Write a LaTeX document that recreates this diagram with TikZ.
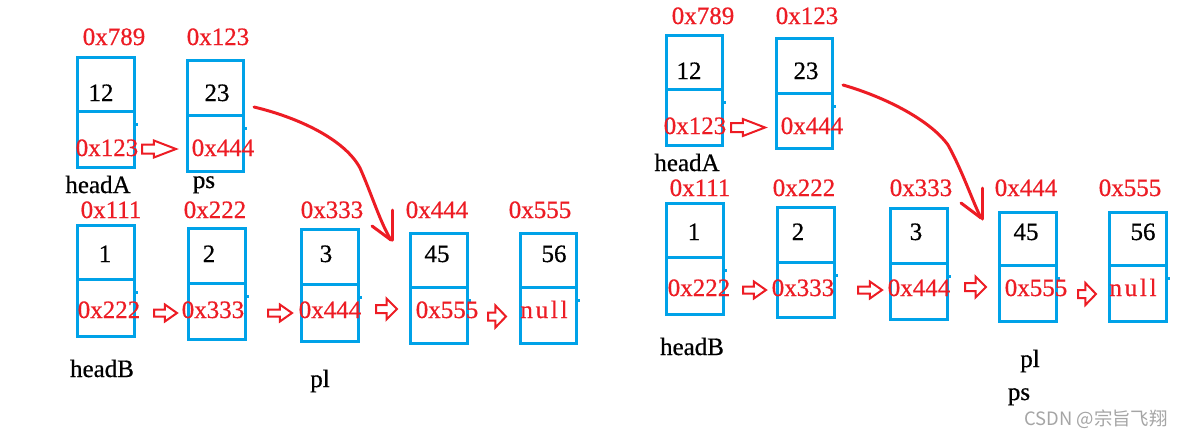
\documentclass[tikz,border=0pt]{standalone}
\usepackage{fontspec}
\setmainfont{Liberation Serif}[FakeBold=0.6]
\newfontfamily\cjk{Noto Sans CJK SC}
\usetikzlibrary{shapes.arrows}
\definecolor{pblue}{RGB}{0,162,232}
\definecolor{pred}{RGB}{237,28,36}
\definecolor{wm}{RGB}{165,165,165}
\tikzset{
  box/.style={draw=pblue, line width=2.25pt, inner sep=0pt, outer sep=0pt},
  boxline/.style={draw=pblue, line width=2.25pt},
  tick/.style={draw=pblue, line width=2.25pt},
  addr/.style={text=pred, anchor=base, inner sep=0pt, font=\fontsize{18.75}{20}\selectfont},
  val/.style={text=black, anchor=base, inner sep=0pt, font=\fontsize{18.75}{20}\selectfont},
  harrow/.style={shape=single arrow, draw=pred, line width=1.5pt, inner xsep=0pt, anchor=tail, outer sep=0pt},
  curve/.style={draw=pred, line width=2.25pt, line cap=round, line join=round},
}
% name x0 x1 y0 y1 divider
\newcommand\bx[6]{%
  \node[box, minimum width={(#3-#2-3)*0.75pt}, minimum height={(#5-#4-3)*0.75pt}] (#1) at ({(#2+#3)/2},{(#4+#5)/2}) {};
  \draw[boxline] ({#2+1.5},#6) -- ({#3-1.5},#6);
  \draw[tick] ({#3-1.5},{#6+13}) -- ++(3,0);
  \draw[tick] ({#2+1.5},{#6-11}) -- ++(-1.5,0);
}
% name tailx y length width shaft tipangle
\newcommand\ha[7]{%
  \node[harrow, inner ysep={#6/2*0.75pt}, minimum height={#4*0.75pt}, minimum width={#5*0.75pt},
        single arrow head extend={(#5-#6)/2*0.75pt}, single arrow tip angle=#7] (#1) at (#2,#3) {};
}
\newcommand\nul{{\addfontfeature{LetterSpace=11}null}}
\begin{document}
\begin{tikzpicture}[x=0.75pt,y=-0.75pt]
\useasboundingbox (0,0) rectangle (1187,437);
\fill[white] (0,0) rectangle (1187,437);

% ================= LEFT =================
\bx{LA1}{76}{136}{56}{169}{111}
\bx{LA2}{186}{245}{59}{173}{115}
\bx{LB1}{76}{136}{224}{338}{279}
\bx{LB2}{187}{247}{227}{341}{283}
\bx{LB3}{300}{360}{228}{343}{284}
\bx{LB4}{409}{469}{232}{345}{287}
\bx{LB5}{519}{578}{232}{345}{287}

\node[addr] (lA1a) at (114,45) {0x789};
\node[addr] (lA2a) at (218,45) {0x123};
\node[val]  (lA1v) at (101,101) {12};
\node[val]  (lA2v) at (217,101) {23};
\node[addr] (lA1n) at (107,156) {0x123};
\node[addr] (lA2n) at (223,156) {0x444};
\node[val]  (lhA) at (98,193) {headA};
\node[val]  (lps) at (204,188) {ps};

\node[addr] (lB1a) at (111,218) {0x111};
\node[addr] (lB2a) at (215,218) {0x222};
\node[addr] (lB3a) at (332,218) {0x333};
\node[addr] (lB4a) at (437,218) {0x444};
\node[addr] (lB5a) at (540,218) {0x555};
\node[val]  (lB1v) at (105,262) {1};
\node[val]  (lB2v) at (209,262) {2};
\node[val]  (lB3v) at (326,262) {3};
\node[val]  (lB4v) at (437,262) {45};
\node[val]  (lB5v) at (554,262) {56};
\node[addr] (lB1n) at (109,318) {0x222};
\node[addr] (lB2n) at (213,318) {0x333};
\node[addr] (lB3n) at (330,318) {0x444};
\node[addr] (lB4n) at (447,318) {0x555};
\node[addr] (lB5n) at (544,318) {\nul};
\node[val]  (lhB) at (102,377) {headB};
\node[val]  (lpl) at (320,387) {pl};

\ha{la1}{142}{149}{34}{15}{7}{42}
\ha{la2}{154}{313}{23}{15}{5}{70}
\ha{la3}{268}{313}{24}{15}{5}{70}
\ha{la4}{376}{309}{21}{19}{6}{90}
\ha{la5}{488}{316.5}{18}{20}{6}{92}

\coordinate (lcs) at (254,107);
\coordinate (lce) at (391,240);
\draw[curve] (lcs) .. controls (300,118) and (345,140) .. (360,168)
  .. controls (372,195) and (380,222) .. (lce);
\draw[curve] (372,226) -- (lce);
\draw[curve] (392,210) -- (392,240);

% ================= RIGHT =================
\bx{RA1}{665}{724}{34}{147}{89}
\bx{RA2}{775}{834}{37}{150}{93}
\bx{RB1}{665}{725}{202}{316}{257}
\bx{RB2}{776}{836}{206}{319}{262}
\bx{RB3}{889}{949}{207}{321}{263}
\bx{RB4}{998}{1058}{211}{323}{265}
\bx{RB5}{1108}{1168}{211}{323}{265}

\node[addr] (rA1a) at (703,24) {0x789};
\node[addr] (rA2a) at (807,24) {0x123};
\node[val]  (rA1v) at (689,79) {12};
\node[val]  (rA2v) at (806,79) {23};
\node[addr] (rA1n) at (695,134) {0x123};
\node[addr] (rA2n) at (812,134) {0x444};
\node[val]  (rhA) at (687,171) {headA};

\node[addr] (rB1a) at (700,196) {0x111};
\node[addr] (rB2a) at (804,196) {0x222};
\node[addr] (rB3a) at (921,196) {0x333};
\node[addr] (rB4a) at (1026,196) {0x444};
\node[addr] (rB5a) at (1130,196) {0x555};
\node[val]  (rB1v) at (694,240) {1};
\node[val]  (rB2v) at (798,240) {2};
\node[val]  (rB3v) at (916,240) {3};
\node[val]  (rB4v) at (1026,240) {45};
\node[val]  (rB5v) at (1143,240) {56};
\node[addr] (rB1n) at (699,296) {0x222};
\node[addr] (rB2n) at (803,296) {0x333};
\node[addr] (rB3n) at (919,296) {0x444};
\node[addr] (rB4n) at (1036,296) {0x555};
\node[addr] (rB5n) at (1133,296) {\nul};
\node[val]  (rhB) at (692,355) {headB};
\node[val]  (rpl) at (1030,367) {pl};
\node[val]  (rps) at (1019,400) {ps};

\ha{ra1}{731}{127.5}{34}{15}{7}{42}
\ha{ra2}{743}{290}{23}{15}{5}{70}
\ha{ra3}{858}{290}{24}{15}{5}{70}
\ha{ra4}{965}{287}{21}{19}{6}{90}
\ha{ra5}{1078}{294}{18}{20}{6}{92}

\coordinate (rcs) at (843,85);
\coordinate (rce) at (981,218);
\draw[curve] (rcs) .. controls (885,97) and (930,120) .. (948,145)
  .. controls (962,170) and (972,200) .. (rce);
\draw[curve] (961,203) -- (rce);
\draw[curve] (982,188) -- (982,219);

\node[anchor=base, inner sep=0pt, text=wm, font=\cjk\fontsize{13.8}{16}\selectfont] (wmk) at (1096,425) {CSDN @宗旨飞翔};
\end{tikzpicture}
\end{document}
